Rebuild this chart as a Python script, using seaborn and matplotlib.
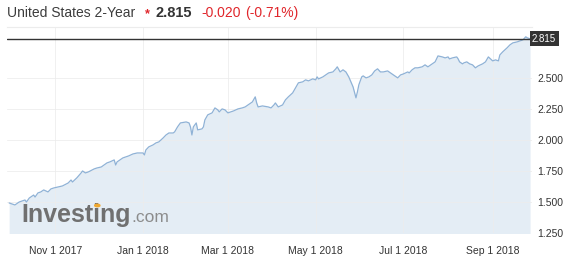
import matplotlib
matplotlib.use("Agg")
import matplotlib.pyplot as plt
import matplotlib.dates as mdates
import matplotlib.transforms as mtrans
import numpy as np
import pandas as pd
import seaborn as sns

# ---------------- data ----------------
dates = [
    "2017-09-30", "2017-10-04", "2017-10-07", "2017-10-11", "2017-10-12", "2017-10-14",
    "2017-10-17", "2017-10-18", "2017-10-20", "2017-10-22", "2017-10-24", "2017-10-27",
    "2017-10-29", "2017-10-31", "2017-11-03", "2017-11-06", "2017-11-10", "2017-11-12",
    "2017-11-13", "2017-11-16", "2017-11-19", "2017-11-20", "2017-11-22", "2017-11-24",
    "2017-11-28", "2017-11-30", "2017-12-03", "2017-12-05", "2017-12-07", "2017-12-09",
    "2017-12-12", "2017-12-13", "2017-12-14", "2017-12-16", "2017-12-18", "2017-12-22",
    "2017-12-25", "2017-12-28", "2017-12-30",
    "2018-01-01", "2018-01-02", "2018-01-03", "2018-01-05", "2018-01-08", "2018-01-10",
    "2018-01-12", "2018-01-15", "2018-01-17", "2018-01-19", "2018-01-22", "2018-01-23",
    "2018-01-25", "2018-01-27", "2018-01-31", "2018-02-02", "2018-02-03", "2018-02-04",
    "2018-02-05", "2018-02-07", "2018-02-08", "2018-02-11", "2018-02-12", "2018-02-13",
    "2018-02-15", "2018-02-18", "2018-02-20", "2018-02-22", "2018-02-23", "2018-02-25",
    "2018-02-27", "2018-03-01", "2018-03-03", "2018-03-05", "2018-03-08", "2018-03-11",
    "2018-03-13", "2018-03-15", "2018-03-18", "2018-03-20", "2018-03-21", "2018-03-22",
    "2018-03-25", "2018-03-29", "2018-03-31",
    "2018-04-02", "2018-04-03", "2018-04-04", "2018-04-05", "2018-04-08", "2018-04-10",
    "2018-04-12", "2018-04-15", "2018-04-17", "2018-04-19", "2018-04-22", "2018-04-24",
    "2018-04-26", "2018-04-29", "2018-05-01", "2018-05-02", "2018-05-03", "2018-05-06",
    "2018-05-08", "2018-05-10", "2018-05-13", "2018-05-15", "2018-05-16", "2018-05-18",
    "2018-05-20", "2018-05-22", "2018-05-24", "2018-05-27", "2018-05-29", "2018-05-30",
    "2018-05-31", "2018-06-02", "2018-06-03", "2018-06-05", "2018-06-07", "2018-06-09",
    "2018-06-11", "2018-06-13", "2018-06-15", "2018-06-17", "2018-06-20", "2018-06-22",
    "2018-06-24", "2018-06-27", "2018-06-29",
    "2018-07-01", "2018-07-04", "2018-07-05", "2018-07-07", "2018-07-09", "2018-07-11",
    "2018-07-14", "2018-07-16", "2018-07-18", "2018-07-21", "2018-07-23", "2018-07-25",
    "2018-07-28", "2018-07-30", "2018-08-01", "2018-08-02", "2018-08-04", "2018-08-07",
    "2018-08-08", "2018-08-09", "2018-08-11", "2018-08-12", "2018-08-14", "2018-08-16",
    "2018-08-18", "2018-08-20", "2018-08-22", "2018-08-25", "2018-08-27", "2018-08-29",
    "2018-09-01", "2018-09-03", "2018-09-05", "2018-09-06", "2018-09-08", "2018-09-11",
    "2018-09-13", "2018-09-15", "2018-09-18", "2018-09-20", "2018-09-22", "2018-09-24",
    "2018-09-25", "2018-09-27",
]
yields = [
    1.492, 1.476, 1.500, 1.516, 1.500, 1.532,
    1.556, 1.540, 1.573, 1.581, 1.597, 1.581,
    1.605, 1.613, 1.621, 1.629, 1.653, 1.677,
    1.661, 1.694, 1.734, 1.750, 1.734, 1.742,
    1.766, 1.774, 1.782, 1.798, 1.815, 1.823,
    1.839, 1.798, 1.823, 1.839, 1.855, 1.871,
    1.887, 1.895, 1.895,
    1.895, 1.879, 1.919, 1.944, 1.960, 1.976,
    1.984, 2.016, 2.040, 2.056, 2.056, 2.065,
    2.105, 2.137, 2.145, 2.137, 2.105, 2.040,
    2.105, 2.137, 2.081, 2.089, 2.105, 2.161,
    2.202, 2.218, 2.258, 2.242, 2.226, 2.250,
    2.242, 2.218, 2.226, 2.234, 2.250, 2.258,
    2.266, 2.282, 2.306, 2.347, 2.298, 2.266,
    2.274, 2.266, 2.258,
    2.282, 2.298, 2.282, 2.266, 2.282, 2.323,
    2.347, 2.379, 2.419, 2.460, 2.468, 2.484,
    2.476, 2.492, 2.484, 2.508, 2.492, 2.508,
    2.524, 2.540, 2.548, 2.573, 2.589, 2.548,
    2.565, 2.548, 2.508, 2.427, 2.339, 2.387,
    2.444, 2.508, 2.516, 2.500, 2.508, 2.524,
    2.556, 2.573, 2.548, 2.548, 2.556, 2.540,
    2.524, 2.500, 2.524,
    2.532, 2.548, 2.540, 2.565, 2.581, 2.581,
    2.589, 2.605, 2.589, 2.613, 2.629, 2.677,
    2.669, 2.661, 2.669, 2.653, 2.661, 2.669,
    2.653, 2.629, 2.613, 2.621, 2.629, 2.613,
    2.605, 2.581, 2.597, 2.613, 2.629, 2.669,
    2.637, 2.645, 2.637, 2.685, 2.710, 2.742,
    2.766, 2.782, 2.790, 2.798, 2.806, 2.831,
    2.823, 2.815,
]
last_value = 2.815
change_text = "-0.020"
change_pct_text = "(-0.71%)"
title_text = "United States 2-Year"

x_tick_dates = ["2017-11-01", "2018-01-01", "2018-03-01", "2018-05-01", "2018-07-01", "2018-09-01"]
x_tick_labels = ["Nov 1 2017", "Jan 1 2018", "Mar 1 2018", "May 1 2018", "Jul 1 2018", "Sep 1 2018"]
y_ticks = [1.25, 1.5, 1.75, 2.0, 2.25, 2.5]
y_tick_labels = ["1.250", "1.500", "1.750", "2.000", "2.250", "2.500"]

df = pd.DataFrame({"date": pd.to_datetime(dates), "yield": yields})

# ---------------- style ----------------
sns.set_style("white")
plt.rcParams["font.family"] = ["Liberation Sans", "DejaVu Sans"]

W, H = 569, 264
fig = plt.figure(figsize=(W / 100, H / 100), dpi=100)
fig.patch.set_facecolor("white")

L, R, T, B = 7, 532, 27, 233
ax = fig.add_axes([L / W, 1 - B / H, (R - L) / W, (B - T) / H])
ax.set_facecolor("white")

LINE = "#8fb2d6"
FILL = "#e4edf5"

ax.fill_between(df["date"], df["yield"], 1.0, color=FILL, lw=0, zorder=1)
sns.lineplot(data=df, x="date", y="yield", ax=ax, color=LINE, lw=0.9, zorder=3)

ax.set_xlim(pd.Timestamp("2017-09-28 12:00"), pd.Timestamp("2018-09-28 08:00"))
ax.set_ylim(1.25, 2.91)

ax.set_xticks(pd.to_datetime(x_tick_dates))
ax.set_xticklabels(x_tick_labels)
ax.set_yticks(y_ticks)
ax.set_yticklabels(y_tick_labels)
ax.yaxis.tick_right()
ax.tick_params(axis="both", length=0, labelsize=7.5, labelcolor="#333333")
ax.tick_params(axis="x", pad=9)
ax.tick_params(axis="y", pad=4)
ax.set_xlabel("")
ax.set_ylabel("")

ax.grid(True, color="#ececec", lw=0.7, zorder=2)
ax.set_axisbelow(False)
for gl in ax.get_xgridlines() + ax.get_ygridlines():
    gl.set_zorder(2)
    gl.set_alpha(0.8)

for s in ["left", "right", "bottom"]:
    ax.spines[s].set_visible(False)
ax.spines["top"].set_color("#ececec")
ax.spines["top"].set_linewidth(0.8)

# last value line and label
ax.axhline(last_value, color="#333333", lw=1.0, zorder=4)
trans = mtrans.blended_transform_factory(ax.transAxes, ax.transData)
ax.text(1.0, last_value, f"{last_value:.3f}", transform=trans, ha="left", va="center",
        fontsize=7, color="white", zorder=6,
        bbox=dict(boxstyle="square,pad=0.25", fc="#333333", ec="none"),
        clip_on=False)

# watermark
fig.text(21 / W, 1 - 222 / H, "Investing", fontsize=18, fontweight="bold",
         color="#707070", ha="left", va="baseline", zorder=10)
fig.text(131 / W, 1 - 222 / H, ".com", fontsize=12.5, color="#8c8c8c",
         ha="left", va="baseline", zorder=10)
fig.add_artist(plt.Circle((97.3 / W, 1 - 205.5 / H), 2.6 / W, transform=fig.transFigure,
                          color="#f0a830", zorder=11))

# header
base = 1 - 17 / H
fig.text(7 / W, base, title_text, fontsize=10, color="#3c3c3c", ha="left", va="baseline")
fig.text(145 / W, base, "*", fontsize=9, color="#e0262b", fontweight="bold", ha="left", va="baseline")
fig.text(155 / W, base, f"{last_value:.3f}", fontsize=10.5, color="#333333",
         fontweight="bold", ha="left", va="baseline")
fig.text(201 / W, base, change_text, fontsize=10, color="#e0262b", ha="left", va="baseline")
fig.text(245 / W, base, change_pct_text, fontsize=10, color="#e0262b", ha="left", va="baseline")

fig.savefig("out.png", dpi=100)
